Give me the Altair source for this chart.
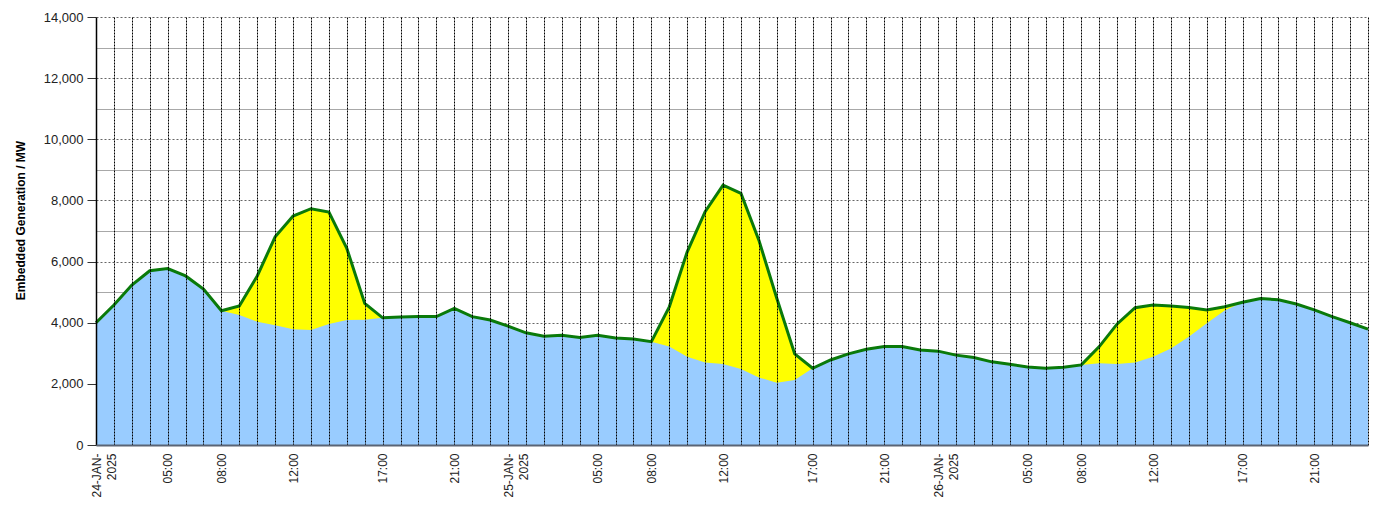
import json
import altair as alt
import pandas as pd

# hourly points, index 0 = first hour shown on 24-JAN-2025
hour_index = list(range(72))

total_mw = [4000, 4580, 5230, 5700, 5770, 5530, 5100, 4390, 4550, 5530,
            6810, 7490, 7730, 7620, 6430, 4630, 4160, 4190, 4200, 4200,
            4470, 4200, 4090, 3890, 3670, 3560, 3590, 3520, 3590, 3500,
            3470, 3380, 4520, 6320, 7630, 8500, 8230, 6700, 4800, 2980,
            2510, 2780, 2980, 3130, 3220, 3220, 3110, 3070, 2940, 2860,
            2720, 2640, 2550, 2510, 2540, 2620, 3220, 3960, 4490, 4580,
            4550, 4500, 4420, 4520, 4670, 4790, 4750, 4610, 4420, 4200,
            4000, 3790]

wind_mw = [4000, 4580, 5230, 5700, 5770, 5530, 5100, 4390, 4250, 4030,
           3920, 3790, 3760, 3960, 4090, 4100, 4160, 4190, 4200, 4200,
           4470, 4200, 4090, 3890, 3670, 3560, 3590, 3520, 3590, 3500,
           3470, 3380, 3220, 2890, 2700, 2650, 2490, 2210, 2040, 2130,
           2510, 2780, 2980, 3130, 3220, 3220, 3110, 3070, 2940, 2860,
           2720, 2640, 2550, 2510, 2540, 2620, 2670, 2650, 2700, 2890,
           3160, 3540, 3980, 4400, 4670, 4790, 4750, 4610, 4420, 4200,
           4000, 3790]

tick_positions = [0, 4, 7, 11, 16, 20, 23, 28, 31, 35, 40, 44, 47, 52, 55, 59, 64, 68]
tick_texts = ["24-JAN-|2025", "05:00", "08:00", "12:00", "17:00", "21:00",
              "25-JAN-|2025", "05:00", "08:00", "12:00", "17:00", "21:00",
              "26-JAN-|2025", "05:00", "08:00", "12:00", "17:00", "21:00"]

y_values = list(range(0, 14001, 1000))

df = pd.DataFrame({"idx": hour_index, "total": total_mw, "wind": wind_mw})

label_arr = [""] * len(hour_index)
for p, t in zip(tick_positions, tick_texts):
    label_arr[p] = t
x_label_expr = "split(" + json.dumps(label_arr) + "[datum.value], '|')"

x_axis = alt.Axis(
    values=hour_index,
    title=None,
    labelExpr=x_label_expr,
    labelAngle=270,
    labelAlign="right",
    labelBaseline="middle",
    labelOverlap=False,
    labelFontSize=12,
    labelColor="#222222",
    labelPadding=8,
    labelLineHeight=15,
    ticks=False,
    domainColor="#5a6475",
    domainWidth=2,
    grid=True,
    gridColor="#000000",
    gridDash={"condition": {"test": "datum.value == 0", "value": []}, "value": [2, 1]},
    gridWidth={"condition": {"test": "datum.value == 0", "value": 1.5}, "value": 1},
    gridOpacity=1,
    zindex=1,
)


def x_enc():
    return alt.X("idx:Q", scale=alt.Scale(domain=[0, 71], nice=False, zero=False), axis=x_axis)


def y_enc(field):
    return alt.Y(
        f"{field}:Q",
        scale=alt.Scale(domain=[0, 14000], nice=False),
        axis=alt.Axis(
            values=y_values,
            labelExpr="datum.value % 2000 == 0 ? format(datum.value, ',') : ''",
            labelFontSize=13,
            labelColor="#222222",
            labelPadding=4,
            tickSize=9,
            tickColor="#333333",
            tickOpacity={"condition": {"test": "datum.value % 2000 == 0", "value": 1}, "value": 0},
            domain=False,
            grid=True,
            gridDash={"condition": {"test": "datum.value % 2000 == 0", "value": [2, 2]}, "value": []},
            gridColor={"condition": {"test": "datum.value % 2000 == 0", "value": "#666666"}, "value": "#a8a8a8"},
            gridWidth=1,
            gridOpacity=1,
            title="Embedded Generation / MW",
            titleFontSize=12,
            titleFontWeight="bold",
            titleColor="#000000",
            titleX=-76,
            titleY=203,
            titleBaseline="middle",
            zindex=0,
        ),
    )


base = alt.Chart(df)

solar_area = base.mark_area(color="#FFFF00", opacity=1, interpolate="linear").encode(
    x=x_enc(), y=y_enc("total")
)
wind_area = base.mark_area(color="#99CCFF", opacity=1, interpolate="linear").encode(
    x=x_enc(), y=y_enc("wind")
)
total_line = base.mark_line(color="#0A7A0A", strokeWidth=3, interpolate="linear").encode(
    x=x_enc(), y=y_enc("total")
)

chart = (
    alt.layer(solar_area, wind_area, total_line)
    .properties(
        width=1272,
        height=428,
        autosize=alt.AutoSizeParams(type="none"),
        padding={"left": 88, "top": 9, "right": 17, "bottom": 55},
        background="#ffffff",
    )
    .configure_view(stroke="transparent")
    .configure_axis(labelFont="Liberation Sans", titleFont="Liberation Sans")
)

chart.save("out.html", embed_options={"renderer": "svg", "actions": False})
